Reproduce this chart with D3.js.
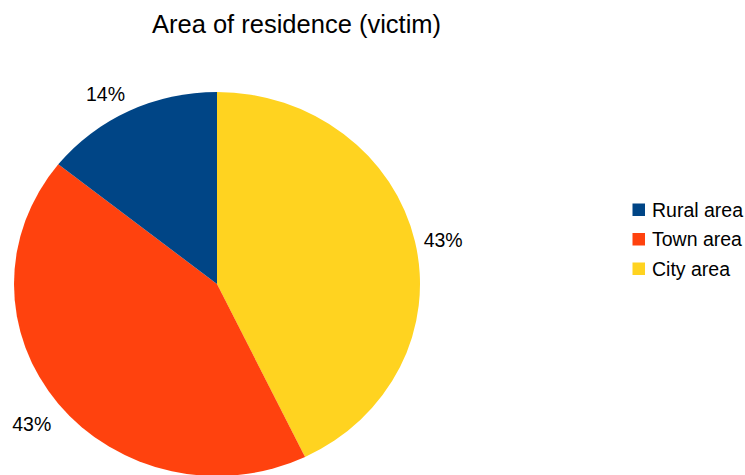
<!DOCTYPE html>
<html>
<head>
<meta charset="utf-8">
<script src="https://cdn.jsdelivr.net/npm/d3@7"></script>
<style>
  html, body { margin: 0; padding: 0; background: #fff; }
  svg { display: block; font-family: "Liberation Sans", Arial, sans-serif; }
</style>
</head>
<body>
<svg id="chart" width="745" height="475"></svg>
<script>
// Victims by area of residence (counts)
const categories = ["Rural area", "Town area", "City area"];
const counts = [1, 3, 3];
const colors = ["#004586", "#ff420e", "#ffd320"];
const title = "Area of residence (victim)";

const svg = d3.select("#chart");
const width = 745, height = 475;

const cx = 217, cy = 284;
const rx = 203, ry = 192;         // the pie is drawn slightly flattened
const squash = ry / rx;

svg.append("text")
  .attr("x", 296.5).attr("y", 33)
  .attr("text-anchor", "middle")
  .attr("font-size", 25.5)
  .attr("fill", "#000")
  .text(title);

// Slices run clockwise from 12 o'clock: city, town, then rural
const order = [2, 1, 0];
const data = order.map(i => ({ name: categories[i], value: counts[i], color: colors[i] }));
const total = d3.sum(counts);

const pie = d3.pie().value(d => d.value).sort(null);
const arcs = pie(data);
const arc = d3.arc().innerRadius(0).outerRadius(rx);

const g = svg.append("g")
  .attr("transform", `translate(${cx},${cy}) scale(1,${squash})`);

g.selectAll("path")
  .data(arcs)
  .join("path")
  .attr("d", arc)
  .attr("fill", d => d.data.color);

// Percentage labels just outside the rim
const fmt = d3.format(".0%");
const labelR = 212;
arcs.forEach(a => {
  const mid = (a.startAngle + a.endAngle) / 2;
  const s = Math.sin(mid), c = Math.cos(mid);
  const x = cx + labelR * s;
  const y = cy - labelR * c * squash;
  const anchor = Math.abs(s) < 0.15 ? "middle" : (s > 0 ? "start" : "end");
  let dy;
  if (c > 0.5) dy = -2.6;
  else if (c < -0.5) dy = 21.7;
  else dy = 7.5;
  svg.append("text")
    .attr("x", x).attr("y", y + dy)
    .attr("text-anchor", anchor)
    .attr("font-size", 19.5)
    .attr("fill", "#000")
    .text(fmt(a.data.value / total));
});

// Legend
const legend = svg.append("g").attr("transform", "translate(632.5,0)");
categories.forEach((name, i) => {
  const row = legend.append("g").attr("transform", `translate(0,${203.5 + i * 29.5})`);
  row.append("rect")
    .attr("width", 12.5).attr("height", 12.5)
    .attr("fill", colors[i]);
  row.append("text")
    .attr("x", 19.5).attr("y", 13.3)
    .attr("font-size", 19.5)
    .attr("fill", "#000")
    .text(name);
});
</script>
</body>
</html>
